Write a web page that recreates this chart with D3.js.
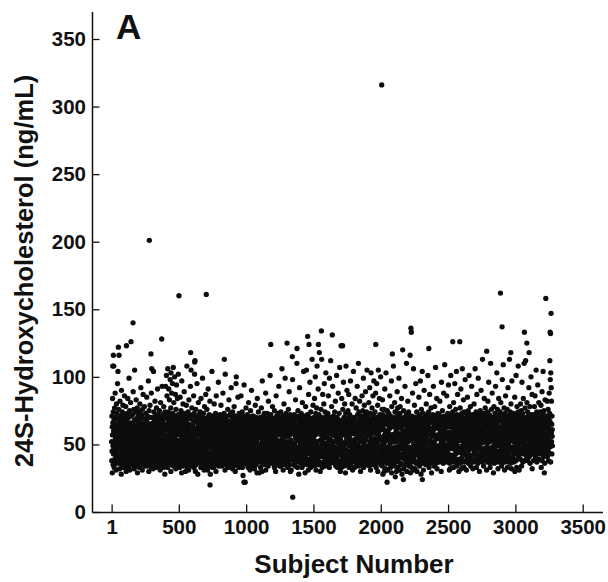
<!DOCTYPE html>
<html><head><meta charset="utf-8">
<script src="https://cdn.jsdelivr.net/npm/d3@7/dist/d3.min.js"></script>
<style>
html,body{margin:0;padding:0;background:#fff;}
svg{display:block;}
text{font-family:"Liberation Sans",Arial,Helvetica,sans-serif;font-weight:bold;fill:#111;}
</style></head>
<body>
<svg id="chart" width="608" height="582"></svg>
<script>
// 24S-hydroxycholesterol (ng/mL) by subject number, subject = index + 1
const hydroxyValues = [
52,38,71,45,63,29,57,84,41,66,49,35,74,55,43,60,108,47,68,33,58,51,77,39,62,46,88,54,36,70,48,59,42,65,31,56,80,44,61,37,73,50,57,40,95,64,47,34,69,53,
45,61,36,76,52,116,39,58,47,67,32,55,82,43,63,50,37,71,57,41,64,28,53,90,46,68,39,59,49,74,35,56,62,44,79,51,38,66,48,57,33,72,54,42,60,86,47,37,65,51,
58,40,69,34,53,78,46,62,30,56,123,43,67,50,38,73,55,44,61,36,84,49,64,41,57,70,33,52,47,99,63,39,58,45,75,31,66,53,42,60,37,81,48,55,64,35,71,44,59,50,
41,63,52,37,72,47,58,35,66,44,89,55,39,61,50,76,43,57,32,68,48,105,53,40,64,59,36,74,46,56,62,38,83,51,45,69,34,60,54,42,77,49,29,65,57,40,71,47,53,62,
55,36,67,48,59,43,74,33,61,52,80,41,57,46,70,38,63,92,50,35,66,44,58,53,72,40,49,62,31,76,56,45,64,39,87,51,60,42,69,47,37,58,54,78,43,65,34,50,61,46,
48,64,39,57,73,44,52,36,68,60,42,85,55,34,63,47,71,50,38,59,66,41,54,97,45,62,30,58,75,49,37,65,53,43,61,79,46,56,35,70,51,40,67,59,44,88,33,57,62,48,
63,42,56,37,70,51,45,66,32,59,48,104,54,39,74,61,43,57,67,35,52,46,82,40,64,55,38,71,49,58,33,62,44,77,53,60,41,69,36,56,47,91,50,65,39,58,72,45,54,34,
51,68,40,59,46,75,35,62,54,43,66,31,57,49,81,38,64,52,44,70,58,36,61,47,55,93,41,67,50,37,63,45,72,56,33,60,48,78,42,65,53,39,69,46,57,28,74,51,62,43,
57,93,44,64,36,70,53,101,41,61,48,86,38,72,50,63,33,106,47,66,55,39,74,45,91,58,42,68,51,83,35,60,71,46,56,98,40,62,54,77,30,103,49,65,43,57,88,37,69,52,
62,46,95,38,58,73,44,54,107,34,66,50,81,41,60,47,69,36,100,55,43,71,39,59,87,48,64,32,76,52,45,67,94,40,57,63,35,70,49,84,44,61,53,37,72,102,46,58,41,65,
54,39,66,47,72,33,58,44,63,85,37,69,50,42,61,75,35,56,48,67,29,97,53,40,62,46,70,38,57,52,80,43,64,34,59,49,73,41,55,89,36,66,51,45,62,38,71,47,57,30,
46,60,35,68,52,79,40,57,44,108,63,37,70,49,33,61,54,74,42,58,47,65,31,56,83,39,62,51,43,69,36,59,72,45,53,93,41,66,48,38,60,55,71,34,63,46,77,50,57,42,
58,41,64,36,71,49,55,67,39,86,45,60,33,73,52,43,102,57,38,65,47,54,30,68,41,76,56,35,62,50,70,44,59,37,95,48,66,40,53,61,28,69,46,57,81,39,64,51,43,72,
65,45,38,70,52,61,42,57,74,36,60,49,67,33,84,47,63,40,55,71,44,58,37,50,66,99,41,62,54,35,68,46,57,73,39,64,51,31,69,43,78,56,38,61,48,66,34,59,53,87,
49,63,40,69,53,35,61,46,76,42,57,66,31,70,54,44,62,91,38,58,48,67,34,60,51,72,41,56,64,37,82,45,59,28,68,50,39,65,55,43,71,36,58,47,62,104,41,53,60,33,
44,62,37,71,50,58,41,64,33,67,55,46,80,39,63,52,69,35,57,48,61,73,42,54,66,30,59,86,45,62,38,56,68,43,51,39,64,57,36,70,47,60,41,96,53,34,65,49,58,44,
64,38,52,61,45,72,36,58,43,67,50,55,79,40,60,47,68,34,63,56,42,70,48,59,37,65,51,88,44,57,62,39,69,46,53,73,35,60,49,41,66,54,31,58,102,45,63,38,67,52,
57,43,68,35,60,49,63,40,71,54,38,64,47,76,33,59,52,66,41,56,62,83,37,50,67,45,58,34,61,48,72,42,55,65,39,73,51,60,92,44,57,36,64,49,70,41,53,62,32,74,
51,63,39,58,46,69,34,61,53,41,78,48,66,37,55,60,44,71,30,62,50,67,42,57,95,38,64,47,56,35,70,52,43,63,58,36,68,45,85,54,40,61,49,66,33,59,47,73,41,56,
62,37,70,48,55,64,40,57,44,67,52,86,35,63,49,39,68,56,42,61,74,33,58,46,65,50,27,66,43,59,71,38,54,63,94,45,60,36,68,51,41,64,22,57,48,67,39,61,77,44,
55,38,48,67,42,61,53,35,72,46,64,57,39,69,33,60,50,81,44,65,58,37,62,47,70,41,59,66,31,54,63,45,75,40,61,52,68,36,57,90,49,64,43,60,34,71,56,47,62,39,
60,44,65,36,71,49,58,41,63,53,68,32,61,47,38,66,55,79,43,62,50,59,35,70,46,63,57,40,67,29,61,52,84,44,64,37,58,69,42,56,74,48,63,39,58,66,29,55,45,60,
48,64,37,62,45,70,33,59,66,41,55,50,77,38,58,68,44,63,30,97,52,60,47,65,36,57,71,42,62,49,39,67,43,58,73,55,35,46,61,52,66,40,57,64,88,31,56,69,45,60,
57,40,66,44,61,35,73,49,63,38,55,68,51,34,60,82,46,64,39,59,70,42,53,56,48,67,37,101,50,61,45,65,32,72,52,59,43,39,66,54,60,47,69,36,57,78,44,62,41,64,
63,46,36,60,69,53,41,58,65,33,75,50,61,44,68,39,56,63,30,66,47,58,86,42,62,51,71,37,60,48,64,41,67,53,35,73,49,62,45,57,68,38,93,51,43,65,47,58,34,70,
52,61,40,68,45,63,34,74,49,57,41,66,38,53,62,106,47,59,36,65,54,71,43,58,31,50,67,44,61,55,80,39,64,48,69,35,60,46,63,99,42,58,51,66,37,56,73,45,59,40,
58,37,64,47,70,43,61,52,33,67,45,63,56,76,40,59,49,65,38,89,46,62,35,68,51,57,44,66,30,72,48,60,42,53,31,67,39,62,50,69,45,58,36,64,98,54,41,47,65,59,
61,44,67,38,59,50,35,72,45,62,40,51,68,34,60,55,83,42,64,48,57,70,37,61,46,53,110,41,59,63,33,68,47,56,75,43,62,39,54,65,28,59,71,45,63,38,92,52,49,66,
55,41,64,49,36,69,53,58,73,39,62,47,56,67,33,52,65,81,43,61,50,70,38,63,45,59,104,35,66,48,57,62,42,71,37,60,54,29,68,46,61,78,40,57,64,44,58,105,51,36,
59,43,66,35,72,47,62,39,55,50,68,31,59,87,44,63,41,70,36,57,65,48,53,96,39,67,45,60,33,74,50,58,38,64,42,69,48,56,61,113,35,66,45,52,63,40,79,49,57,37,
56,40,64,48,70,37,53,84,44,61,34,67,57,100,42,59,73,50,31,66,45,63,39,77,52,60,108,36,64,47,69,43,58,61,91,38,55,66,44,49,72,35,59,118,46,62,41,68,53,30,
63,42,68,36,57,76,46,61,39,65,113,52,45,70,33,62,49,54,87,41,64,37,58,67,44,56,80,35,63,50,95,43,66,38,59,74,47,62,34,69,55,103,40,51,64,42,60,71,37,57,
57,44,66,38,62,50,73,35,60,46,86,52,39,64,41,68,58,33,99,48,63,43,70,54,36,65,53,112,45,60,67,40,62,49,78,37,58,46,64,31,69,57,93,42,63,51,38,71,45,61,
41,60,52,67,36,63,48,74,39,61,43,56,82,47,62,34,69,53,40,59,64,101,45,57,38,70,54,44,63,33,58,66,51,88,42,62,35,68,55,60,73,37,49,58,107,43,61,67,46,30,
54,38,62,47,71,42,65,33,60,84,51,44,57,68,36,59,55,76,41,61,66,48,96,39,62,44,70,34,59,64,50,80,37,58,45,67,52,29,61,73,43,108,56,46,65,35,62,54,90,40,
62,45,57,69,38,60,75,42,64,51,36,87,49,63,33,41,67,56,44,72,53,39,65,45,97,58,35,68,52,43,63,59,70,37,48,66,80,41,61,53,31,64,46,58,69,38,104,50,62,44,
58,39,65,52,33,70,48,63,41,84,54,37,66,45,59,62,77,43,64,35,40,68,50,61,93,46,57,72,38,63,49,55,67,110,42,62,34,74,44,60,65,36,82,52,47,57,69,37,63,30,
63,42,55,68,37,48,71,40,62,53,86,35,66,45,58,64,75,38,61,47,99,54,33,42,69,50,60,79,44,65,36,62,47,72,39,58,89,53,41,67,44,63,35,56,74,46,62,105,49,60,
57,36,62,70,43,60,48,66,39,58,81,45,61,68,34,49,64,92,40,52,57,73,44,31,58,65,54,103,38,61,48,69,42,63,77,53,35,66,41,58,62,86,46,64,37,50,71,43,97,54,
60,40,67,35,54,62,74,48,63,38,65,88,44,52,61,33,70,45,58,95,41,64,37,51,68,57,79,30,47,66,53,105,39,57,64,42,69,46,60,84,36,55,63,72,49,38,61,66,100,44,
62,44,70,35,53,39,59,47,68,76,34,55,83,41,63,28,50,72,37,56,66,44,61,49,76,30,54,38,57,91,52,45,68,48,32,59,65,40,103,60,53,70,42,36,57,45,64,75,55,47,
67,31,58,43,71,59,38,54,47,73,41,63,49,68,36,56,86,62,43,65,51,71,33,44,63,57,69,46,97,29,52,78,53,40,64,58,35,47,37,57,70,55,45,108,52,66,39,63,42,68,
56,48,81,34,58,74,54,63,41,67,52,37,74,48,60,30,65,44,70,39,62,89,54,46,57,77,33,45,72,38,63,55,68,49,99,53,42,58,31,41,67,73,56,78,43,63,35,52,70,36,
62,66,50,84,47,55,64,28,40,47,69,58,57,42,60,53,69,38,58,75,32,51,44,59,66,46,39,70,56,93,48,35,55,67,41,49,64,37,72,54,110,61,45,30,65,59,43,68,40,56,
82,63,47,52,66,38,74,55,34,44,64,48,71,59,36,57,62,45,68,39,29,63,53,76,41,58,66,45,33,64,37,57,71,54,43,88,59,67,48,31,62,40,106,61,50,69,44,64,38,79,
55,47,58,32,47,70,42,56,66,95,59,36,52,68,44,57,74,49,30,56,65,58,44,61,54,70,37,63,48,67,42,57,85,62,39,66,51,34,72,45,64,38,61,97,56,68,46,44,28,63,
41,76,57,49,53,69,36,104,56,43,58,49,66,40,59,73,31,55,46,67,38,90,60,52,61,42,66,49,52,70,38,58,64,35,67,45,56,80,40,58,69,54,43,65,46,72,37,62,51,101,
64,44,68,39,58,74,51,47,33,59,66,41,87,61,36,48,70,53,62,44,67,39,77,57,50,59,29,43,56,70,38,58,66,50,45,59,72,40,60,67,93,47,62,37,45,34,69,52,64,41,
78,56,63,39,68,48,107,62,44,65,36,54,71,49,63,84,42,32,66,57,49,64,38,73,46,62,68,43,63,41,67,48,55,72,37,57,65,44,82,54,39,60,68,47,62,42,70,51,30,56,
96,38,59,66,45,64,49,75,40,62,53,69,44,65,36,57,88,47,59,54,71,41,64,50,109,56,39,67,45,60,38,57,63,46,71,54,40,65,58,86,43,56,68,37,49,64,45,73,57,41,
67,55,94,48,63,39,70,52,31,65,59,78,36,63,47,32,69,58,42,101,57,64,38,55,72,49,63,67,41,58,42,66,51,74,39,62,47,57,69,33,81,53,37,64,49,71,56,40,60,95,
46,67,52,38,63,55,76,43,59,68,48,104,61,34,57,72,50,36,65,54,87,45,62,58,39,70,47,63,53,30,61,46,55,71,39,64,50,58,44,77,62,36,68,53,91,47,60,32,66,56,
73,40,59,49,65,106,54,43,70,58,38,62,47,83,57,51,67,33,63,55,74,45,60,37,69,52,98,57,48,64,53,67,42,59,73,31,62,38,56,70,45,64,51,85,40,61,57,68,43,75,
54,36,63,49,58,101,46,66,41,60,55,72,39,64,50,78,57,34,67,53,61,37,71,48,93,56,63,42,59,69,66,49,58,32,72,55,63,37,60,46,69,53,80,43,57,64,39,67,52,61,
106,45,58,70,48,62,38,74,55,33,65,51,59,87,40,63,56,71,46,60,36,68,53,99,57,42,64,49,73,58,50,62,30,69,56,38,64,52,75,43,59,67,47,61,90,54,40,66,57,72,
44,63,37,58,51,113,60,46,68,55,41,73,59,34,63,38,70,54,84,47,61,57,43,65,52,77,39,62,56,68,57,44,71,53,63,31,60,48,67,56,37,74,51,64,45,82,58,42,69,54,
61,96,47,65,39,59,72,52,44,63,57,33,70,36,61,110,55,46,66,58,41,76,53,60,48,67,39,88,62,56,63,48,58,39,70,55,29,66,52,61,78,43,59,36,68,57,50,73,46,64,
41,60,93,54,67,38,62,49,57,71,45,103,59,42,65,53,76,40,61,56,32,69,37,63,51,84,58,44,72,55,54,68,43,61,49,74,38,59,65,46,57,81,52,40,70,55,63,34,67,36,
60,50,98,58,42,72,53,64,47,109,56,39,66,51,61,77,45,58,69,31,62,37,55,73,49,64,86,52,41,60,62,47,70,53,38,65,58,44,76,51,60,33,68,55,92,46,63,37,59,71,
49,57,43,66,52,113,61,40,69,55,47,74,58,36,64,50,80,45,62,57,32,67,53,97,60,48,71,39,58,65,56,41,67,59,48,73,52,63,37,58,69,44,61,54,85,30,66,57,47,72,
62,38,55,64,101,50,59,43,70,33,46,78,61,39,65,53,60,45,74,57,108,49,63,42,68,55,58,31,71,52,64,47,58,72,43,61,55,80,39,67,52,63,46,75,58,34,69,54,96,60,
45,66,51,73,37,62,57,48,84,59,43,70,53,64,110,49,61,56,38,68,54,77,45,62,58,112,50,66,42,59,57,70,46,63,52,81,40,60,67,49,74,55,38,64,58,44,71,53,62,92,
47,68,56,41,65,59,50,78,36,61,54,69,45,63,57,100,48,72,59,43,66,52,61,87,32,58,70,55,47,64,61,45,69,55,38,72,58,63,49,66,53,78,42,60,57,86,47,64,51,70,
40,62,56,105,45,67,59,52,74,37,63,55,68,48,61,94,57,43,71,53,65,46,60,81,50,58,39,69,55,62,55,68,48,62,74,43,59,66,51,79,57,33,64,53,70,46,61,89,38,67,
56,63,45,72,52,104,59,48,65,41,60,75,54,63,47,69,58,36,66,51,83,62,44,71,56,97,49,64,58,42,63,50,71,45,66,58,82,41,61,54,68,47,76,59,38,64,53,70,44,62,
88,56,48,73,60,112,67,55,98,51,63,37,103,57,46,92,59,82,52,65,43,71,56,61,49
];

// Individually readable points (high and low outliers), subject number and value
const notableSubjects = [9,14,48,51,145,160,281,293,299,373,501,588,591,618,620,704,732,838,927,984,1183,1304,1343,1346,1378,1457,1467,1537,1559,1640,1705,1717,1963,2007,2047,2086,2108,2163,2168,2218,2224,2227,2309,2357,2535,2587,2787,2889,2901,2966,3067,3085,3102,3215,3226,3258,3261,3265];
const notableValues   = [108,116,104,122,126,140,201,117,106,128,160,118,105,111,112,161,20,113,100,22,124,125,115,11,121,130,124,124,134,131,123,123,124,316,22,117,26,120,24,116,136,133,24,121,126,126,119,162,137,118,133,125,118,29,158,133,132,147];

const xTickValues = [1,500,1000,1500,2000,2500,3000,3500];
const yTickValues = [0,50,100,150,200,250,300,350];

const axisTitleX = "Subject Number";
const axisTitleY = "24S-Hydroxycholesterol (ng/mL)";
const panelLabel = "A";

// build points
const valueBySubject = new Map(hydroxyValues.map((v,i)=>[i+1,v]));
notableSubjects.forEach((s,i)=>valueBySubject.set(s, notableValues[i]));
const points = Array.from(valueBySubject, ([subject,value])=>({subject,value}));

const svg = d3.select("#chart");
const x = d3.scaleLinear().domain([0,3500]).range([111.5,582.7]);
const y = d3.scaleLinear().domain([0,350]).range([512,39]);

const axisX0 = 92.5, axisX1 = 603, axisY0 = 512.5, axisYTop = 12;

// points
svg.append("g").selectAll("circle").data(points).join("circle")
  .attr("cx", d=>x(d.subject)).attr("cy", d=>y(d.value))
  .attr("r", 2.65).attr("fill", "#0d0d0d");

// axes
const gx = svg.append("g").attr("transform", `translate(0,${axisY0})`)
  .call(d3.axisBottom(x).tickValues(xTickValues).tickFormat(d3.format("d")).tickSize(-8).tickPadding(7));
gx.select(".domain").remove();
gx.selectAll(".tick line").attr("stroke","#111").attr("stroke-width",1.3);
gx.selectAll(".tick text").style("font-size","20.5px").attr("fill","#111");

const gy = svg.append("g").attr("transform", `translate(${axisX0},0)`)
  .call(d3.axisLeft(y).tickValues(yTickValues).tickSize(-7).tickPadding(6.5));
gy.select(".domain").remove();
gy.selectAll(".tick line").attr("stroke","#111").attr("stroke-width",1.3);
gy.selectAll(".tick text").style("font-size","20.5px").attr("fill","#111");

svg.append("line").attr("x1",axisX0).attr("x2",axisX0).attr("y1",axisYTop).attr("y2",axisY0)
  .attr("stroke","#111").attr("stroke-width",1.5);
svg.append("line").attr("x1",axisX0).attr("x2",axisX1).attr("y1",axisY0).attr("y2",axisY0)
  .attr("stroke","#111").attr("stroke-width",1.5);

// titles
svg.append("text").attr("x",354).attr("y",573).attr("text-anchor","middle")
  .style("font-size","26px").text(axisTitleX);
svg.append("text").attr("transform","translate(33,271) rotate(-90)").attr("text-anchor","middle")
  .style("font-size","25.5px").text(axisTitleY);
svg.append("text").attr("x",116).attr("y",39).style("font-size","35px").text(panelLabel);
</script>
</body></html>
